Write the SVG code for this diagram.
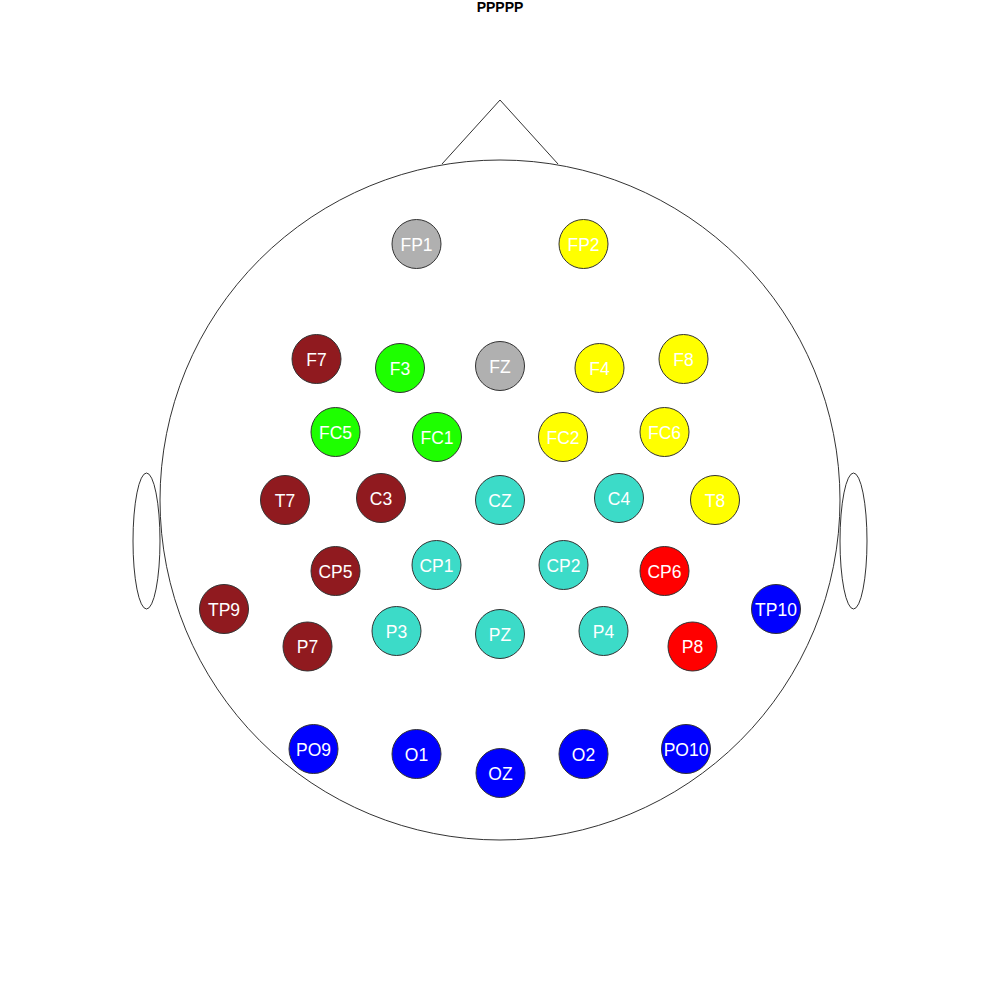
<svg xmlns="http://www.w3.org/2000/svg" width="1000" height="1000" viewBox="0 0 1000 1000">
<style>
.head{fill:none;stroke:#333;stroke-width:1}
.e circle{stroke:#333;stroke-width:1}
.e text{font-family:"Liberation Sans",Arial,sans-serif;font-size:17.5px;fill:#fff;text-anchor:middle}
.gray{fill:#b0b0b0}.yel{fill:#ffff00}.dred{fill:#901a1f}.grn{fill:#1eff00}.tq{fill:#3cdbc8}.red{fill:#ff0000}.blu{fill:#0000ff}
.title{font-family:"Liberation Sans",Arial,sans-serif;font-size:14px;font-weight:bold;fill:#000;text-anchor:middle}
</style>
<rect width="1000" height="1000" fill="#fff"/>
<text class="title" x="500" y="12">PPPPP</text>
<g id="head">
<circle class="head" cx="500" cy="500" r="340"/>
<polyline class="head" points="442,164 500,100 558,164"/>
<ellipse class="head" cx="146.5" cy="541" rx="13.5" ry="68"/>
<ellipse class="head" cx="853.5" cy="541" rx="13.5" ry="68"/>
</g>
<g id="connectors"></g>
<g id="FP1" class="e"><circle class="gray" cx="416.5" cy="244" r="24.5"/><text x="416.5" y="250.5">FP1</text></g>
<g id="FP2" class="e"><circle class="yel" cx="583.5" cy="244" r="24.5"/><text x="583.5" y="250.5">FP2</text></g>
<g id="F7" class="e"><circle class="dred" cx="316.5" cy="359" r="24.5"/><text x="316.5" y="365.5">F7</text></g>
<g id="F3" class="e"><circle class="grn" cx="400" cy="368" r="24.5"/><text x="400" y="374.5">F3</text></g>
<g id="FZ" class="e"><circle class="gray" cx="500" cy="366" r="24.5"/><text x="500" y="372.5">FZ</text></g>
<g id="F4" class="e"><circle class="yel" cx="599.5" cy="368" r="24.5"/><text x="599.5" y="374.5">F4</text></g>
<g id="F8" class="e"><circle class="yel" cx="683.5" cy="359" r="24.5"/><text x="683.5" y="365.5">F8</text></g>
<g id="FC5" class="e"><circle class="grn" cx="335.5" cy="432" r="24.5"/><text x="335.5" y="438.5">FC5</text></g>
<g id="FC1" class="e"><circle class="grn" cx="437" cy="437" r="24.5"/><text x="437" y="443.5">FC1</text></g>
<g id="FC2" class="e"><circle class="yel" cx="563" cy="437" r="24.5"/><text x="563" y="443.5">FC2</text></g>
<g id="FC6" class="e"><circle class="yel" cx="664.5" cy="432" r="24.5"/><text x="664.5" y="438.5">FC6</text></g>
<g id="T7" class="e"><circle class="dred" cx="285" cy="500" r="24.5"/><text x="285" y="506.5">T7</text></g>
<g id="C3" class="e"><circle class="dred" cx="381" cy="498" r="24.5"/><text x="381" y="504.5">C3</text></g>
<g id="CZ" class="e"><circle class="tq" cx="500" cy="500" r="24.5"/><text x="500" y="506.5">CZ</text></g>
<g id="C4" class="e"><circle class="tq" cx="619" cy="498" r="24.5"/><text x="619" y="504.5">C4</text></g>
<g id="T8" class="e"><circle class="yel" cx="715" cy="500" r="24.5"/><text x="715" y="506.5">T8</text></g>
<g id="CP5" class="e"><circle class="dred" cx="335.5" cy="571" r="24.5"/><text x="335.5" y="577.5">CP5</text></g>
<g id="CP1" class="e"><circle class="tq" cx="436.5" cy="565" r="24.5"/><text x="436.5" y="571.5">CP1</text></g>
<g id="CP2" class="e"><circle class="tq" cx="563.5" cy="565" r="24.5"/><text x="563.5" y="571.5">CP2</text></g>
<g id="CP6" class="e"><circle class="red" cx="664.5" cy="571" r="24.5"/><text x="664.5" y="577.5">CP6</text></g>
<g id="TP9" class="e"><circle class="dred" cx="224" cy="609" r="24.5"/><text x="224" y="615.5">TP9</text></g>
<g id="TP10" class="e"><circle class="blu" cx="776" cy="609" r="24.5"/><text x="776" y="615.5">TP10</text></g>
<g id="P7" class="e"><circle class="dred" cx="307.5" cy="646.5" r="24.5"/><text x="307.5" y="653">P7</text></g>
<g id="P3" class="e"><circle class="tq" cx="396.5" cy="631" r="24.5"/><text x="396.5" y="637.5">P3</text></g>
<g id="PZ" class="e"><circle class="tq" cx="500" cy="634" r="24.5"/><text x="500" y="640.5">PZ</text></g>
<g id="P4" class="e"><circle class="tq" cx="603.5" cy="631" r="24.5"/><text x="603.5" y="637.5">P4</text></g>
<g id="P8" class="e"><circle class="red" cx="692.5" cy="646.5" r="24.5"/><text x="692.5" y="653">P8</text></g>
<g id="PO9" class="e"><circle class="blu" cx="313.5" cy="749" r="24.5"/><text x="313.5" y="755.5">PO9</text></g>
<g id="O1" class="e"><circle class="blu" cx="416.5" cy="754" r="24.5"/><text x="416.5" y="760.5">O1</text></g>
<g id="OZ" class="e"><circle class="blu" cx="500.5" cy="773" r="24.5"/><text x="500.5" y="779.5">OZ</text></g>
<g id="O2" class="e"><circle class="blu" cx="583.5" cy="754" r="24.5"/><text x="583.5" y="760.5">O2</text></g>
<g id="PO10" class="e"><circle class="blu" cx="686" cy="749" r="24.5"/><text x="686" y="755.5">PO10</text></g>
</svg>
